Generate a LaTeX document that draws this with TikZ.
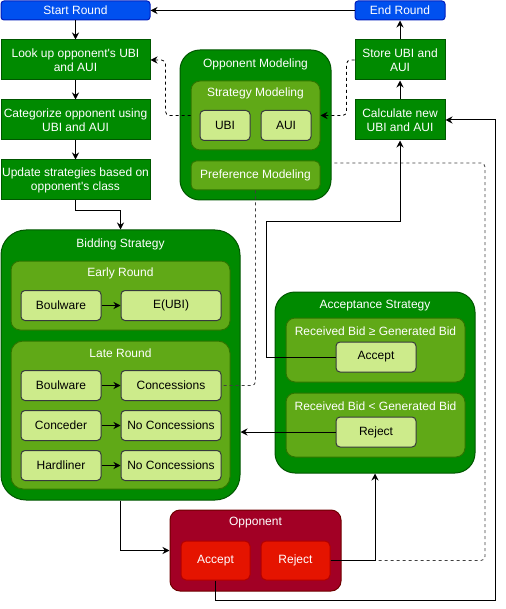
\documentclass[tikz,border=0pt]{standalone}
\usepackage{fontspec}
\setmainfont{Liberation Sans}
\usepackage{tikz}
\usetikzlibrary{arrows.meta}

\definecolor{dgreen}{HTML}{008A00}
\definecolor{dgreenline}{HTML}{005700}
\definecolor{mgreen}{HTML}{60A917}
\definecolor{mgreenline}{HTML}{2D7600}
\definecolor{lgreen}{HTML}{CDEB8B}
\definecolor{lgreenline}{HTML}{36393D}
\definecolor{bblue}{HTML}{0050EF}
\definecolor{bblueline}{HTML}{001DBC}
\definecolor{dred}{HTML}{A20025}
\definecolor{dredline}{HTML}{6F0000}
\definecolor{bred}{HTML}{E51400}
\definecolor{bredline}{HTML}{B20000}

\tikzset{
	every node/.style={font=\fontsize{12}{14}\selectfont, inner sep=0pt, align=center},
	roundbox/.style={draw=bblueline, fill=bblue, text=white, rounded corners=3pt, line width=1pt},
	process/.style={draw=dgreenline, fill=dgreen, text=white, line width=1pt},
	outerbox/.style={draw=dgreenline, fill=dgreen, rounded corners=20pt, line width=1pt},
	innerbox/.style={draw=mgreenline, fill=mgreen, rounded corners=9pt, line width=1pt},
	itembox/.style={draw=lgreenline, fill=lgreen, text=black, rounded corners=4pt, line width=1pt},
	title/.style={text=white},
	oppbox/.style={draw=dredline, fill=dred, rounded corners=10pt, line width=1pt},
	oppitem/.style={draw=bredline, fill=bred, text=white, rounded corners=5pt, line width=1pt},
	arr/.style={-{Stealth[length=7pt,width=7pt]}, line width=1pt},
	link/.style={line width=1pt},
	dashlink/.style={dashed, line width=0.8pt, rounded corners=4pt}
}

\begin{document}
\begin{tikzpicture}[x=1pt, y=-1pt]
	\useasboundingbox (0,0) rectangle (505,609);

	% left column
	\node[roundbox, minimum width=149pt, minimum height=19pt] (start) at (75.5,10.5) {Start Round};
	\node[process, minimum width=149pt, minimum height=40pt] (lookup) at (75.5,60) {Look up opponent\textquotesingle s UBI\\and AUI};
	\node[process, minimum width=149pt, minimum height=40pt] (categ) at (75.5,120) {Categorize opponent using\\UBI and AUI};
	\node[process, minimum width=149pt, minimum height=40pt] (update) at (75.5,180) {Update strategies based on\\opponent\textquotesingle s class};

	% right column
	\node[roundbox, minimum width=90pt, minimum height=19pt] (endr) at (400,10.5) {End Round};
	\node[process, minimum width=90pt, minimum height=40pt] (store) at (400,60) {Store UBI and\\AUI};
	\node[process, minimum width=90pt, minimum height=40pt] (calc) at (400,120) {Calculate new\\UBI and AUI};

	% opponent modeling
	\node[outerbox, minimum width=151pt, minimum height=150pt] (oppmod) at (255.5,125) {};
	\node[title] (oppmodt) at (255.5,64) {Opponent Modeling};
	\node[innerbox, minimum width=129pt, minimum height=69pt] (stratmod) at (255.5,115.5) {};
	\node[title] (stratmodt) at (255.5,93) {Strategy Modeling};
	\node[itembox, minimum width=50pt, minimum height=30pt] (ubi) at (225,125.5) {UBI};
	\node[itembox, minimum width=50pt, minimum height=30pt] (aui) at (286,125.5) {AUI};
	\node[innerbox, rounded corners=5pt, minimum width=129pt, minimum height=29pt, text=white] (pref) at (255.5,175.5) {Preference Modeling};

	% bidding strategy
	\node[outerbox, rounded corners=25pt, minimum width=239pt, minimum height=270pt] (bid) at (120.5,365) {};
	\node[title] (bidt) at (120.5,244) {Bidding Strategy};
	\node[innerbox, minimum width=219pt, minimum height=69pt] (early) at (120.5,295.5) {};
	\node[title] (earlyt) at (120.5,273) {Early Round};
	\node[itembox, minimum width=80pt, minimum height=30pt] (bwone) at (61,305.5) {Boulware};
	\node[itembox, minimum width=100pt, minimum height=30pt] (eubi) at (171,305.5) {E(UBI)};
	\node[innerbox, rounded corners=12pt, minimum width=219pt, minimum height=148pt] (late) at (120.5,415) {};
	\node[title] (latet) at (120.5,353) {Late Round};
	\node[itembox, minimum width=80pt, minimum height=30pt] (bwtwo) at (61,385.5) {Boulware};
	\node[itembox, minimum width=100pt, minimum height=30pt] (conc) at (171,385.5) {Concessions};
	\node[itembox, minimum width=80pt, minimum height=30pt] (conceder) at (61,425.5) {Conceder};
	\node[itembox, minimum width=100pt, minimum height=30pt] (noconone) at (171,425.5) {No Concessions};
	\node[itembox, minimum width=80pt, minimum height=30pt] (hardliner) at (61,465.5) {Hardliner};
	\node[itembox, minimum width=100pt, minimum height=30pt] (nocontwo) at (171,465.5) {No Concessions};

	% acceptance strategy
	\node[outerbox, minimum width=200pt, minimum height=181pt] (acc) at (375,382.5) {};
	\node[title] (acct) at (375,306) {Acceptance Strategy};
	\node[innerbox, minimum width=179pt, minimum height=64pt] (geq) at (375.5,350) {};
	\node[title] (geqt) at (375.5,331) {Received Bid ≥ Generated Bid};
	\node[itembox, minimum width=80pt, minimum height=30pt] (accept) at (376,357) {Accept};
	\node[innerbox, minimum width=179pt, minimum height=64pt] (less) at (375.5,425) {};
	\node[title] (lesst) at (375.5,406) {Received Bid < Generated Bid};
	\node[itembox, minimum width=80pt, minimum height=30pt] (reject) at (376,432) {Reject};

	% opponent
	\node[oppbox, minimum width=171pt, minimum height=81pt] (opp) at (255.5,550.5) {};
	\node[title] (oppt) at (255.5,523) {Opponent};
	\node[oppitem, minimum width=69pt, minimum height=39pt] (oacc) at (215.5,560.5) {Accept};
	\node[oppitem, minimum width=69pt, minimum height=39pt] (orej) at (295.5,560.5) {Reject};

	% flow
	\draw[arr] (endr.west) -- (start.east);
	\draw[arr] (start) -- (lookup);
	\draw[arr] (lookup) -- (categ);
	\draw[arr] (categ) -- (update);
	\draw[arr] (update.south) -- ++(0,10) -| (bid.north);
	\draw[arr] (calc) -- (store);
	\draw[arr] (store) -- (endr);

	% model links
	\draw[dashlink, -{Stealth[length=7pt,width=7pt]}] (stratmod.west) -- ++(-25,0) |- (lookup.east);
	\draw[dashlink, -{Stealth[length=7pt,width=7pt]}] (store.west) -- ++(-8,0) |- (stratmod.east);
	\draw[dashlink, black!75] (pref.south) |- (conc.east);
	\draw[dashlink, black!75] (orej.east) -- (485,560.5) |- (oppmod.east |- 0,163);

	% bidding arrows
	\draw[arr] (bwone) -- (eubi);
	\draw[arr] (bwtwo) -- (conc);
	\draw[arr] (conceder) -- (noconone);
	\draw[arr] (hardliner) -- (nocontwo);

	% decisions
	\draw[arr] (accept.west) -| (266,222) -| (calc.south);
	\draw[arr] (reject.west) -- (bid.east |- reject.west);
	\draw[arr] (bid.south) |- (opp.west);
	\draw[arr] (orej.east) -| (acc.south);
	\draw[arr] (oacc.south) |- (495,600) |- (calc.east);
\end{tikzpicture}
\end{document}
